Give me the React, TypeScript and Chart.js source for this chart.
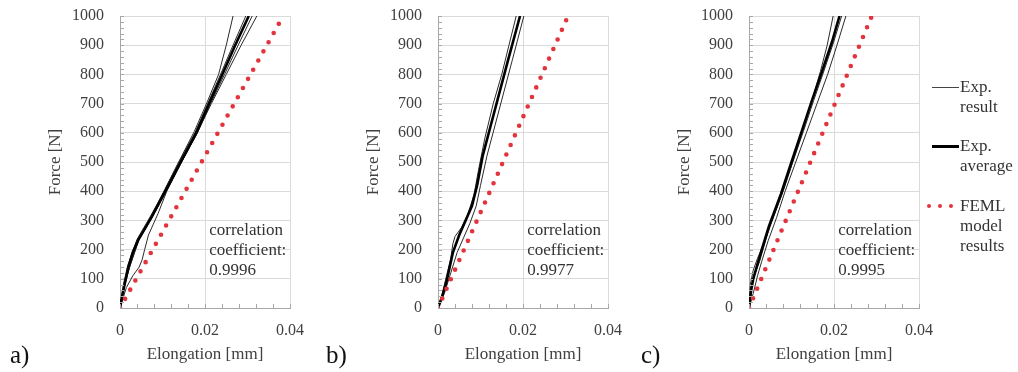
import React, { useEffect, useRef } from "react";
import { Chart, registerables } from "chart.js";
Chart.register(...registerables);

const FONT = "'Liberation Serif', 'Times New Roman', serif";
const RED = "#e3343e";

// x tick / y tick settings
const X_MIN = 0, X_MAX = 0.04, X_STEP = 0.004, X_MAJOR = 0.02;
const Y_MIN = 0, Y_MAX = 1000, Y_STEP = 20, Y_MAJOR = 100;

// ---------- Panel a ----------
const aFemX = [0, 0.0384];
const aFemY = [0, 1000];
const aAvgX = [0, 0.0005, 0.001, 0.002, 0.003, 0.0043, 0.006, 0.0075, 0.0106, 0.0141, 0.0179, 0.021, 0.0242, 0.0271, 0.0303];
const aAvgY = [0, 40, 75, 141, 190, 233, 275, 313, 398, 495, 598, 701, 804, 900, 1000];
const aExp1X = [0, 0.0012, 0.0025, 0.0045, 0.0075, 0.0104, 0.0138, 0.0175, 0.0205, 0.0232, 0.025, 0.0266];
const aExp1Y = [0, 90, 150, 235, 318, 402, 500, 605, 705, 800, 900, 1000];
const aExp2X = [0, 0.001, 0.0022, 0.0043, 0.0076, 0.0108, 0.0143, 0.0181, 0.0215, 0.025, 0.0285, 0.0322];
const aExp2Y = [0, 70, 138, 230, 312, 398, 495, 598, 700, 800, 900, 1000];
const aExp3X = [0, 0.0015, 0.003, 0.0045, 0.0052, 0.0058, 0.0067, 0.009, 0.011, 0.0145, 0.0182, 0.0213, 0.0246, 0.0278, 0.0311];
const aExp3Y = [0, 70, 110, 140, 165, 200, 250, 325, 400, 500, 600, 700, 800, 900, 1000];
const aExp4X = [0, 0.0008, 0.0018, 0.004, 0.0072, 0.0104, 0.0139, 0.0177, 0.0207, 0.0238, 0.0266, 0.0296];
const aExp4Y = [0, 80, 145, 235, 315, 400, 500, 602, 702, 805, 900, 1000];
const aNote = ["correlation", "coefficient:", "0.9996"];

// ---------- Panel b ----------
const bFemX = [0, 0.0306];
const bFemY = [0, 1000];
const bAvgX = [0, 0.001, 0.002, 0.0035, 0.005, 0.0065, 0.008, 0.0092, 0.0105, 0.0125, 0.0145, 0.0165, 0.0193];
const bAvgY = [0, 40, 90, 190, 250, 300, 350, 420, 520, 630, 740, 850, 1000];
const bExp1X = [0, 0.001, 0.002, 0.003, 0.0035, 0.004, 0.0055, 0.007, 0.0085, 0.0095, 0.011, 0.013, 0.015, 0.0184];
const bExp1Y = [0, 50, 110, 170, 220, 245, 275, 320, 390, 470, 580, 700, 800, 1000];
const bExp2X = [0, 0.0015, 0.003, 0.0045, 0.006, 0.0075, 0.009, 0.01, 0.0115, 0.0135, 0.0155, 0.0175, 0.0202];
const bExp2Y = [0, 50, 120, 190, 240, 290, 350, 420, 520, 630, 740, 850, 1000];
const bNote = ["correlation", "coefficient:", "0.9977"];

// ---------- Panel c ----------
const cFemX = [0, 0.0289];
const cFemY = [0, 1000];
const cAvgX = [0, 0.0005, 0.001, 0.002, 0.003, 0.0047, 0.0075, 0.01, 0.0124, 0.0148, 0.0173, 0.0195, 0.0213];
const cAvgY = [0, 60, 100, 150, 200, 280, 390, 500, 605, 710, 815, 910, 1000];
const cExp1X = [0, 0.0003, 0.001, 0.002, 0.0035, 0.0055, 0.008, 0.0104, 0.0127, 0.0148, 0.0168, 0.0184, 0.0198];
const cExp1Y = [0, 80, 130, 170, 220, 300, 400, 505, 610, 710, 810, 900, 1000];
const cExp2X = [0, 0.001, 0.002, 0.003, 0.0045, 0.0065, 0.0085, 0.011, 0.0135, 0.016, 0.0185, 0.0207, 0.0228];
const cExp2Y = [0, 50, 110, 160, 230, 310, 400, 500, 600, 700, 800, 900, 1000];
const cExp3X = [0, 0.0005, 0.0012, 0.0025, 0.0035, 0.005, 0.0078, 0.0103, 0.0128, 0.0152, 0.0177, 0.0199, 0.0218];
const cExp3Y = [0, 70, 110, 160, 210, 285, 390, 500, 605, 710, 815, 910, 1000];
const cNote = ["correlation", "coefficient:", "0.9995"];

// note anchor (data coordinates)
const NOTE_X = 0.021;
const NOTE_Y = 267;

const pts = (xs: number[], ys: number[]) => xs.map((x, i) => ({ x, y: ys[i] }));
const isMajor = (v: any, step: number) =>
  typeof v === "number" && Math.abs(v / step - Math.round(v / step)) < 1e-6;

function thin(xs: number[], ys: number[]) {
  return { data: pts(xs, ys), borderColor: "#2a2a2a", borderWidth: 1, order: 2 };
}
function avg(xs: number[], ys: number[]) {
  return { data: pts(xs, ys), borderColor: "#000", borderWidth: 2.6, order: 1 };
}
function feml(xs: number[], ys: number[]) {
  return {
    data: pts(xs, ys),
    borderColor: RED,
    borderWidth: 4.6,
    borderDash: [0, 10.5],
    borderCapStyle: "round",
    order: 0,
  };
}

function makeDecor(lines: string[]) {
  return {
    id: "decor",
    afterDraw(chart: any) {
      const { ctx, chartArea, scales } = chart;
      const x = scales.x, y = scales.y;
      ctx.save();
      ctx.strokeStyle = "#a8a8a8";
      ctx.lineWidth = 1;
      ctx.beginPath();
      for (const t of x.ticks) {
        const px = Math.round(x.getPixelForValue(t.value)) + 0.5;
        ctx.moveTo(px, chartArea.bottom);
        ctx.lineTo(px, chartArea.bottom - 4);
      }
      for (const t of y.ticks) {
        const py = Math.round(y.getPixelForValue(t.value)) + 0.5;
        ctx.moveTo(chartArea.left, py);
        ctx.lineTo(chartArea.left + 4, py);
      }
      ctx.stroke();
      ctx.fillStyle = "#333";
      ctx.font = `17px ${FONT}`;
      ctx.textBaseline = "middle";
      ctx.textAlign = "left";
      const tx = x.getPixelForValue(NOTE_X);
      const ty = y.getPixelForValue(NOTE_Y);
      lines.forEach((l, i) => ctx.fillText(l, tx, ty + i * 20));
      ctx.restore();
    },
  };
}

function Panel({ left, datasets, note }: { left: number; datasets: any[]; note: string[] }) {
  const ref = useRef<HTMLCanvasElement>(null);
  useEffect(() => {
    const chart = new Chart(ref.current!, {
      type: "line",
      data: { datasets: datasets.map((d) => ({ ...d, pointRadius: 0, tension: 0, fill: false })) },
      options: {
        animation: false,
        responsive: false,
        maintainAspectRatio: false,
        layout: { autoPadding: false, padding: { top: 16, right: 22, left: 0, bottom: 0 } },
        plugins: { legend: { display: false }, tooltip: { enabled: false } },
        scales: {
          x: {
            type: "linear",
            min: X_MIN,
            max: X_MAX,
            afterFit: (s: any) => {
              s.height = 64;
              s.paddingLeft = 0;
              s.paddingRight = 0;
            },
            ticks: {
              stepSize: X_STEP,
              autoSkip: false,
              maxRotation: 0,
              padding: 13,
              color: "#404040",
              font: { family: FONT, size: 16 },
              callback: (v: any) => (isMajor(v, X_MAJOR) ? (v === 0 ? "0" : Number(v).toFixed(2)) : ""),
            },
            grid: {
              drawTicks: false,
              color: (c: any) => (isMajor(c.tick && c.tick.value, X_MAJOR) ? "#dadada" : "rgba(0,0,0,0)"),
            },
            border: { color: "#a8a8a8", width: 1 },
            title: {
              display: true,
              text: "Elongation [mm]",
              color: "#404040",
              font: { family: FONT, size: 17 },
              padding: { top: 0, bottom: 7 },
            },
          },
          y: {
            type: "linear",
            min: Y_MIN,
            max: Y_MAX,
            afterFit: (s: any) => {
              s.width = 120;
              s.paddingTop = 0;
              s.paddingBottom = 0;
            },
            ticks: {
              stepSize: Y_STEP,
              autoSkip: false,
              padding: 16,
              color: "#404040",
              font: { family: FONT, size: 16 },
              callback: (v: any) => (isMajor(v, Y_MAJOR) ? String(v) : ""),
            },
            grid: {
              drawTicks: false,
              color: (c: any) => (isMajor(c.tick && c.tick.value, Y_MAJOR) ? "#dadada" : "rgba(0,0,0,0)"),
            },
            border: { color: "#a8a8a8", width: 1 },
            title: {
              display: true,
              text: "Force [N]",
              color: "#404040",
              font: { family: FONT, size: 17 },
              padding: { top: 45, bottom: 0 },
            },
          },
        },
      } as any,
      plugins: [makeDecor(note)],
    });
    return () => chart.destroy();
  }, []);
  return (
    <canvas
      ref={ref}
      width={312}
      height={372}
      style={{ position: "absolute", left, top: 0, width: 312, height: 372 }}
    />
  );
}

const panelLabel = (text: string, left: number) => (
  <div
    style={{
      position: "absolute",
      left,
      top: 342,
      fontFamily: FONT,
      fontSize: 25,
      lineHeight: "25px",
      color: "#111",
    }}
  >
    {text}
  </div>
);

const legendText: React.CSSProperties = {
  position: "absolute",
  left: 960,
  fontFamily: FONT,
  fontSize: 17,
  lineHeight: "20px",
  color: "#333",
};

export default function App() {
  useEffect(() => {
    document.body.style.margin = "0";
  }, []);
  return (
    <div style={{ position: "absolute", left: 0, top: 0, width: 1018, height: 372, background: "#fff" }}>
      <Panel
        left={0}
        note={aNote}
        datasets={[
          feml(aFemX, aFemY),
          avg(aAvgX, aAvgY),
          thin(aExp1X, aExp1Y),
          thin(aExp2X, aExp2Y),
          thin(aExp3X, aExp3Y),
          thin(aExp4X, aExp4Y),
        ]}
      />
      <Panel
        left={318}
        note={bNote}
        datasets={[feml(bFemX, bFemY), avg(bAvgX, bAvgY), thin(bExp1X, bExp1Y), thin(bExp2X, bExp2Y)]}
      />
      <Panel
        left={629}
        note={cNote}
        datasets={[
          feml(cFemX, cFemY),
          avg(cAvgX, cAvgY),
          thin(cExp1X, cExp1Y),
          thin(cExp2X, cExp2Y),
          thin(cExp3X, cExp3Y),
        ]}
      />
      {panelLabel("a)", 10)}
      {panelLabel("b)", 326)}
      {panelLabel("c)", 641)}

      {/* legend */}
      <div style={{ position: "absolute", left: 932, top: 87, width: 27, height: 1, background: "#444" }} />
      <div style={{ ...legendText, top: 77 }}>Exp.<br />result</div>
      <div style={{ position: "absolute", left: 932, top: 145, width: 27, height: 3, background: "#000" }} />
      <div style={{ ...legendText, top: 136 }}>Exp.<br />average</div>
      {[929, 940, 951].map((cx) => (
        <div
          key={cx}
          style={{
            position: "absolute",
            left: cx - 2.3,
            top: 206 - 2.3,
            width: 4.6,
            height: 4.6,
            borderRadius: "50%",
            background: RED,
          }}
        />
      ))}
      <div style={{ ...legendText, top: 196 }}>FEML<br />model<br />results</div>
    </div>
  );
}
